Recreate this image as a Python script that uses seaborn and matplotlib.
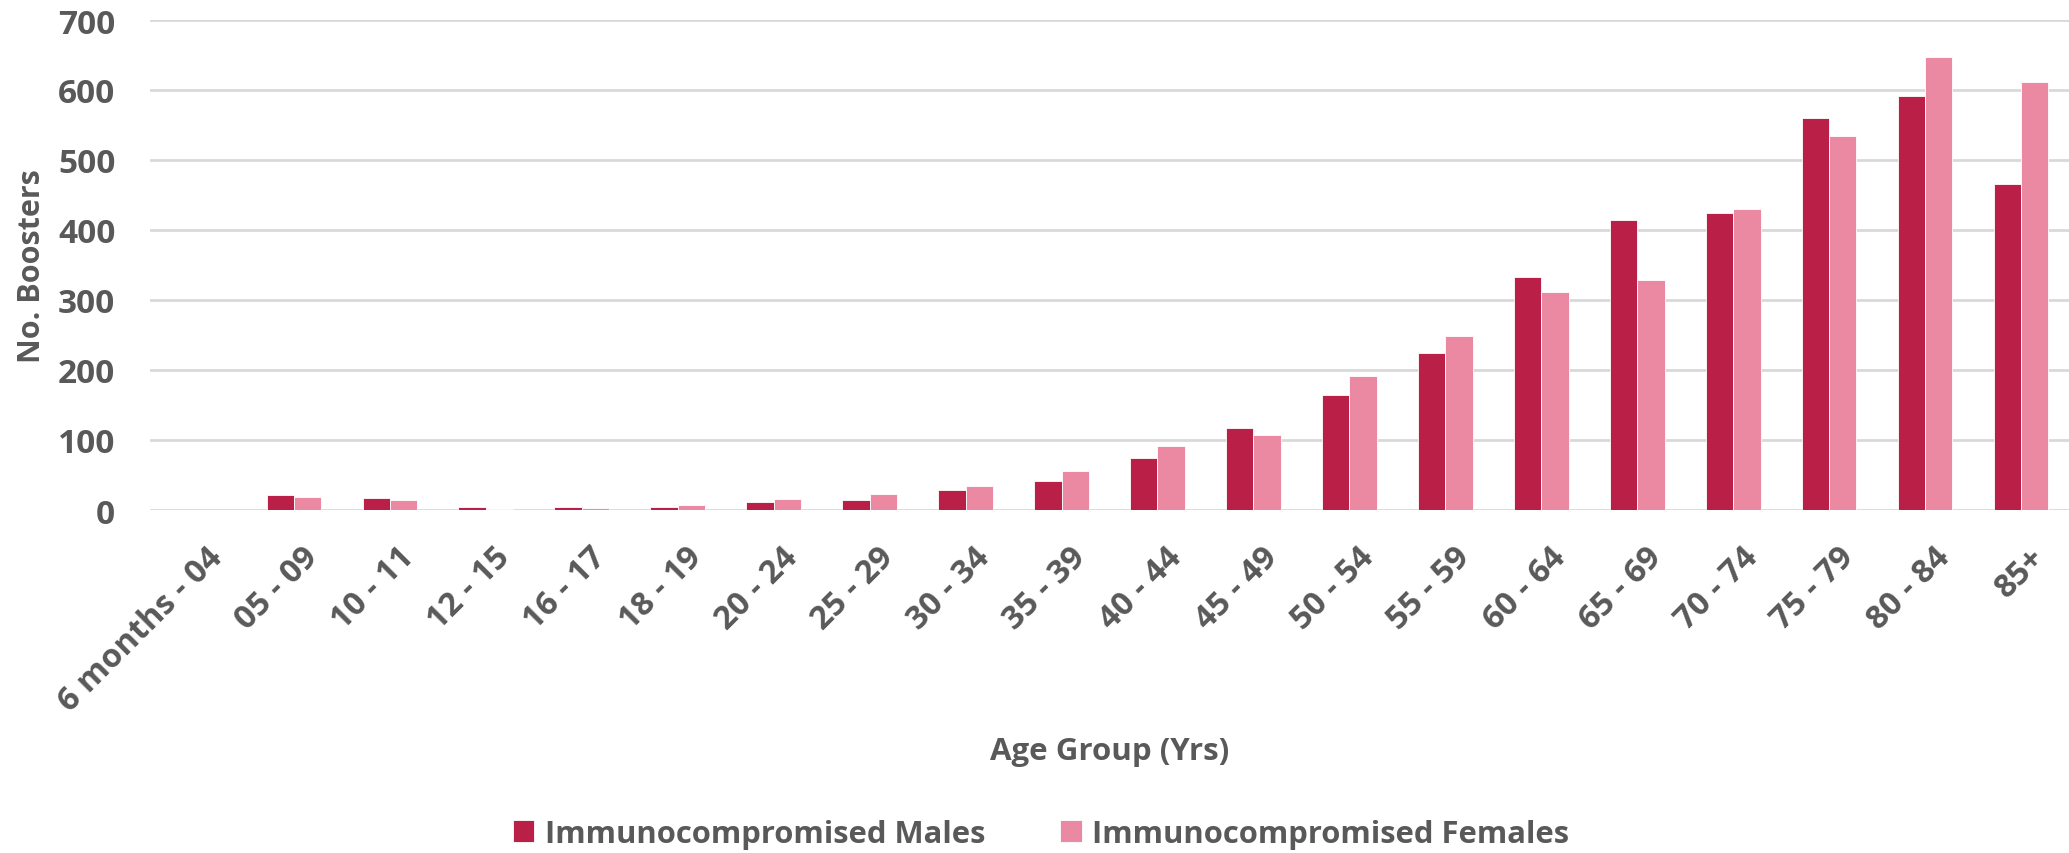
import pandas as pd
import seaborn as sns
import matplotlib.pyplot as plt
import matplotlib.transforms as mtransforms

# age groups and booster counts
age_groups = ['6 months - 04', '05 - 09', '10 - 11', '12 - 15', '16 - 17', '18 - 19',
              '20 - 24', '25 - 29', '30 - 34', '35 - 39', '40 - 44', '45 - 49',
              '50 - 54', '55 - 59', '60 - 64', '65 - 69', '70 - 74', '75 - 79',
              '80 - 84', '85+']
males = [0, 21, 17, 5, 5, 4, 12, 14, 28, 42, 74, 117, 164, 224, 333, 414, 424, 560, 591, 466]
females = [0, 18, 15, 2, 3, 7, 16, 23, 34, 56, 92, 107, 192, 248, 312, 328, 430, 534, 647, 612]

series_names = ['Immunocompromised Males', 'Immunocompromised Females']
colors = {'Immunocompromised Males': '#BA1F47', 'Immunocompromised Females': '#EB89A2'}
text_color = '#595959'

df = pd.DataFrame({
    'age': age_groups * 2,
    'count': males + females,
    'series': [series_names[0]] * len(age_groups) + [series_names[1]] * len(age_groups),
})

sns.set_style('white')
plt.rcParams['font.family'] = ['Open Sans', 'DejaVu Sans']
plt.rcParams['font.weight'] = 'bold'

W, H = 2069, 854
fig = plt.figure(figsize=(W / 100, H / 100), dpi=100)
ax = fig.add_axes([150 / W, (H - 511) / H, (W - 150) / W, (511 - 21) / H])

sns.barplot(data=df, x='age', y='count', hue='series', hue_order=series_names,
            order=age_groups, palette=colors, saturation=1, width=0.57,
            edgecolor='white', linewidth=0.6, ax=ax)

ax.set_ylim(0, 700)
ax.set_xlim(-0.5, len(age_groups) - 0.5)
ax.set_yticks(range(0, 701, 100))
ax.yaxis.grid(True, color='#D9D9D9', linewidth=2)
ax.set_axisbelow(True)
for s in ax.spines.values():
    s.set_visible(False)

ax.tick_params(axis='y', length=0, pad=25, labelsize=24, labelcolor=text_color)
ax.tick_params(axis='x', length=0, pad=22, labelsize=23.5, labelcolor=text_color)
ax.set_xticks(range(len(age_groups)))
ax.set_xticklabels(age_groups, rotation=45, ha='right', va='top', rotation_mode='anchor')
shift = mtransforms.ScaledTranslation(8 / 100, 0, fig.dpi_scale_trans)
for lbl in ax.get_xticklabels():
    lbl.set_transform(lbl.get_transform() + shift)
for lbl in ax.get_yticklabels() + ax.get_xticklabels():
    lbl.set_fontweight('bold')

ax.set_ylabel('No. Boosters', fontsize=22, fontweight='bold', color=text_color, va='center')
ax.yaxis.set_label_coords((32 - 150) / 1919, 0.5)
ax.set_xlabel('Age Group (Yrs)', fontsize=22.5, fontweight='bold', color=text_color)
ax.xaxis.set_label_coords(0.5, (511 - 752) / 490)
ax.xaxis.label.set_va('center')

handles, labels = ax.get_legend_handles_labels()
ax.get_legend().remove()
fig.legend(handles, labels, loc='center', bbox_to_anchor=(1041 / W, 1 - 835 / H),
           ncol=2, frameon=False, handlelength=0.7, handleheight=0.7,
           handletextpad=0.35, columnspacing=2.4, labelcolor=text_color,
           prop={'weight': 'bold', 'size': 22.3})

fig.savefig('out.png', dpi=100, facecolor='white')
